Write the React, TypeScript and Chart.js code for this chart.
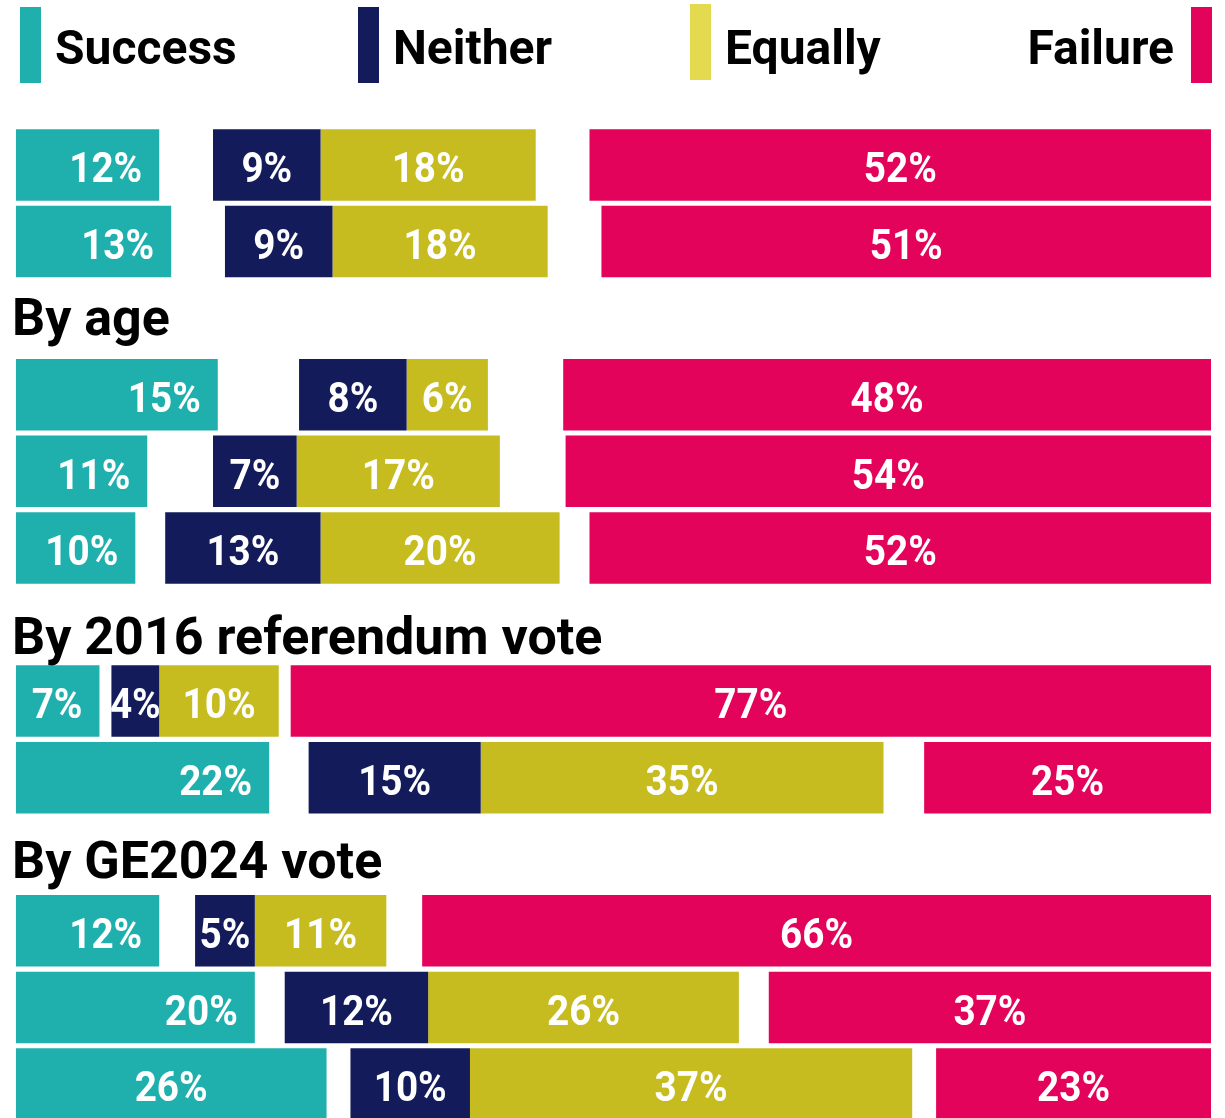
import React, { useEffect, useRef } from "react";
import { Chart, registerables } from "chart.js";

Chart.register(...registerables);

// ---- Data (bar lengths, in % of the full row) ----
const categories = [
  "Overall (1)",
  "Overall (2)",
  "By age",
  "Age group 1",
  "Age group 2",
  "Age group 3",
  "By 2016 referendum vote",
  "Referendum group 1",
  "Referendum group 2",
  "By GE2024 vote",
  "GE2024 group 1",
  "GE2024 group 2",
  "GE2024 group 3",
];

const headings = ["By age", "By 2016 referendum vote", "By GE2024 vote"];

const successValues = [12, 13, null, 16.9, 11, 10, null, 7, 21.2, null, 12, 20, 26];
const gapLeftValues = [4.5, 4.5, null, 6.8, 5.5, 2.5, null, 1.0, 3.3, null, 3.0, 2.5, 2.0];
const neitherValues = [9, 9, null, 9.0, 7, 13, null, 4, 14.4, null, 5, 12, 10];
const equallyValues = [18, 18, null, 6.8, 17, 20, null, 10, 33.7, null, 11, 26, 37];
const gapRightValues = [4.5, 4.5, null, 6.3, 5.5, 2.5, null, 1.0, 3.4, null, 3.0, 2.5, 2.0];
const failureValues = [52, 51, null, 54.2, 54, 52, null, 77, 24.0, null, 66, 37, 23];

// ---- Printed labels ----
const successLabels = [12, 13, null, 15, 11, 10, null, 7, 22, null, 12, 20, 26];
const neitherLabels = [9, 9, null, 8, 7, 13, null, 4, 15, null, 5, 12, 10];
const equallyLabels = [18, 18, null, 6, 17, 20, null, 10, 35, null, 11, 26, 37];
const failureLabels = [52, 51, null, 48, 54, 52, null, 77, 25, null, 66, 37, 23];

const seriesNames = ["Success", "Neither", "Equally", "Failure"];

const COLORS = {
  success: "#1fb0ae",
  neither: "#131b5a",
  equally: "#c6bc20",
  failure: "#e4035a",
  equallyLegend: "#e3da50",
};

const W = 1225;
const H = 1125;

const overlayPlugin = {
  id: "overlay",
  afterDraw(chart: any, _args: any, opts: any) {
    const ctx: CanvasRenderingContext2D = chart.ctx;
    const yScale = chart.scales.y;
    ctx.save();

    // Legend
    ctx.textBaseline = "alphabetic";
    ctx.font = "bold 48px Roboto";
    ctx.fillStyle = "#000";
    const legendItems = chart.data.datasets.filter((d: any) => d.legendColor);
    legendItems.forEach((d: any, k: number) => {
      const lx = opts.legendX[k];
      const rt = opts.legendRectTop[k];
      ctx.fillStyle = d.legendColor;
      ctx.fillRect(lx, rt, 21, 76);
      ctx.fillStyle = "#000";
      if (k === legendItems.length - 1) {
        ctx.textAlign = "right";
        ctx.fillText(d.label, lx - 17, 64);
      } else {
        ctx.textAlign = "left";
        ctx.fillText(d.label, lx + 35, 64);
      }
    });

    // Section headings
    ctx.font = "bold 52px Roboto";
    ctx.textAlign = "left";
    ctx.fillStyle = "#000";
    headings.forEach((h, k) => {
      const idx = categories.indexOf(h);
      const y = yScale.getPixelForValue(idx);
      ctx.fillText(h, 12, y + opts.headingBaseline[k]);
    });

    // Value labels
    ctx.font = "bold 43px Roboto";
    ctx.fillStyle = "#fff";
    chart.data.datasets.forEach((ds: any, di: number) => {
      const labels = ds.valueLabels;
      if (!labels) return;
      const meta = chart.getDatasetMeta(di);
      meta.data.forEach((el: any, i: number) => {
        const v = labels[i];
        if (v == null) return;
        const p = el.getProps(["x", "base", "y"], true);
        const left = Math.min(p.x, p.base);
        const right = Math.max(p.x, p.base);
        const text = v + "%";
        let tx: number;
        if (ds.labelAnchor === "end" && right - left < 280) {
          ctx.textAlign = "right";
          tx = right - 17;
        } else {
          ctx.textAlign = "center";
          tx = (left + right) / 2;
        }
        ctx.save();
        ctx.translate(tx, p.y + 17.3);
        ctx.scale(0.9, 1);
        ctx.fillText(text, 0, 0);
        ctx.restore();
      });
    });

    ctx.restore();
  },
};

export default function App() {
  const ref = useRef<HTMLCanvasElement | null>(null);

  useEffect(() => {
    if (!ref.current) return;
    const bar = { barPercentage: 0.934, categoryPercentage: 1.0, borderWidth: 0 };
    const chart = new Chart(ref.current, {
      type: "bar",
      data: {
        labels: categories,
        datasets: [
          {
            ...bar,
            label: seriesNames[0],
            data: successValues,
            backgroundColor: COLORS.success,
            legendColor: COLORS.success,
            valueLabels: successLabels,
            labelAnchor: "end",
          } as any,
          { ...bar, label: "gap-left", data: gapLeftValues, backgroundColor: "rgba(0,0,0,0)" },
          {
            ...bar,
            label: seriesNames[1],
            data: neitherValues,
            backgroundColor: COLORS.neither,
            legendColor: COLORS.neither,
            valueLabels: neitherLabels,
          } as any,
          {
            ...bar,
            label: seriesNames[2],
            data: equallyValues,
            backgroundColor: COLORS.equally,
            legendColor: COLORS.equallyLegend,
            valueLabels: equallyLabels,
          } as any,
          { ...bar, label: "gap-right", data: gapRightValues, backgroundColor: "rgba(0,0,0,0)" },
          {
            ...bar,
            label: seriesNames[3],
            data: failureValues,
            backgroundColor: COLORS.failure,
            legendColor: COLORS.failure,
            valueLabels: failureLabels,
          } as any,
        ],
      },
      options: {
        indexAxis: "y",
        responsive: false,
        animation: false,
        layout: { padding: { left: 15.8, right: W - 1211, top: 126.7, bottom: H - 1122.3 } },
        scales: {
          x: { type: "linear", min: 0, max: 100, stacked: true, display: false },
          y: { type: "category", stacked: true, display: false },
        },
        plugins: {
          legend: { display: false },
          tooltip: { enabled: false },
          overlay: {
            legendX: [20, 358, 690, 1191],
            legendRectTop: [7, 7, 4, 7],
            headingBaseline: [17, 29, 23.5],
          },
        } as any,
      },
      plugins: [overlayPlugin],
    });
    return () => chart.destroy();
  }, []);

  return (
    <div
      style={{
        position: "fixed",
        left: 0,
        top: 0,
        width: W,
        height: 1118,
        overflow: "hidden",
        background: "#fff",
      }}
    >
      <canvas ref={ref} width={W} height={H} style={{ display: "block" }} />
    </div>
  );
}
